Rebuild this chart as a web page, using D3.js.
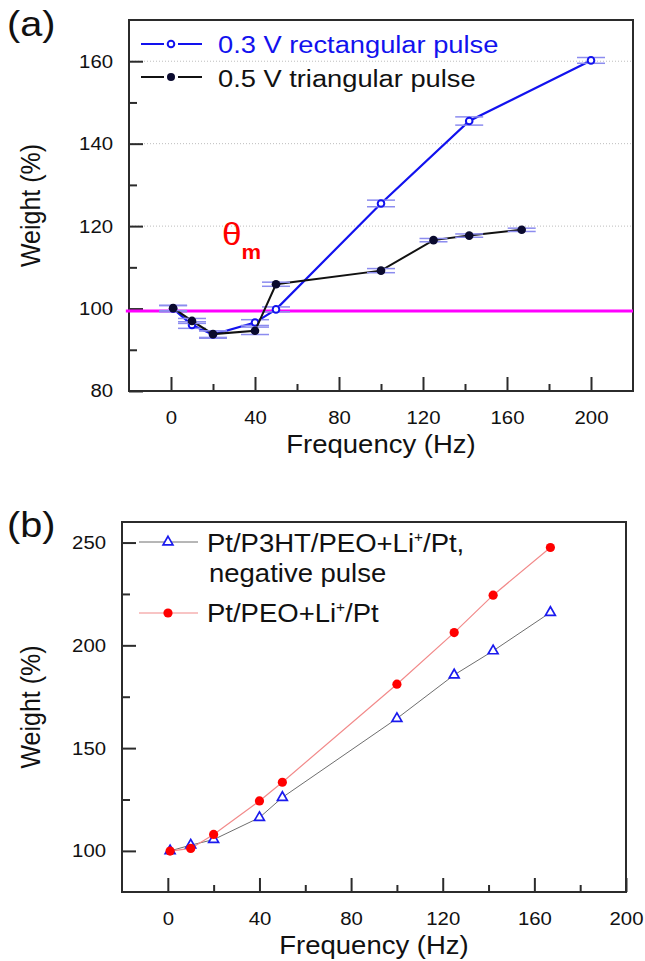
<!DOCTYPE html>
<html>
<head>
<meta charset="utf-8">
<title>Weight vs frequency</title>
<script src="https://cdn.jsdelivr.net/npm/d3@7"></script>
<style>
  body { margin: 0; background: #fff; }
  svg { display: block; font-family: "Liberation Sans", Arial, sans-serif; }
</style>
</head>
<body>
<svg width="645" height="961"></svg>
<script>

// ---- panel (a) data ----
var freqRect   = [1, 10, 20, 40, 50, 100, 142, 200];
var weightRect = [100, 96, 93.7, 96.6, 99.8, 125.5, 145.5, 160.2];
var errRect    = [0.8, 0.8, 0.9, 0.7, 0.6, 0.8, 1.0, 0.7];

var freqTri   = [1, 10, 20, 40, 50, 100, 125, 142, 167];
var weightTri = [100.1, 97, 93.8, 94.6, 105.9, 109.2, 116.6, 117.7, 119.1];
var errTri    = [0.6, 0.6, 0.8, 0.9, 0.5, 0.5, 0.4, 0.4, 0.4];

var thetaLevel = 99.4;          // magenta reference line
var xMajorA = [0, 40, 80, 120, 160, 200], xMinorA = [20, 60, 100, 140, 180];
var yMajorA = [80, 100, 120, 140, 160],   yMinorA = [90, 110, 130, 150];
var gridA = [120, 140, 160];

// ---- panel (b) data ----
var freqB      = [1, 10, 20, 40, 50, 100, 125, 142, 167];
var weightP3HT = [100, 102.8, 105.5, 116.2, 126, 164.4, 185.6, 197.3, 216];
var weightPEO  = [99.9, 101.2, 108, 124.3, 133.4, 181.1, 206.2, 224.4, 247.6];
var xMajorB = [0, 40, 80, 120, 160, 200], xMinorB = [20, 60, 100, 140, 180];
var yMajorB = [100, 150, 200, 250],       yMinorB = [125, 175, 225];

var svg = d3.select("svg");
var SX = 1.1;      // the lettering in the figure is a little wider than Arial
var ink = "#2b2b2b";

function txt(g, x, y, s, size, anchor, color) {
  return g.append("text")
    .attr("transform", "translate(" + x + "," + y + ") scale(" + SX + ",1)")
    .attr("text-anchor", anchor || "start")
    .attr("fill", color || "#111")
    .style("font-size", size + "px")
    .text(s);
}

// box, inward ticks and labels, built on d3 axes
function frame(g, x, y, xMaj, xMin, yMaj, yMin) {
  var bottom = y.range()[0], left = x.range()[0];
  var styleAxis = function(a) {
    a.select(".domain").remove();
    a.selectAll("line").attr("stroke", ink).attr("stroke-width", 2);
    a.attr("font-family", null).attr("font-size", null);
    a.selectAll("text").attr("fill", "#111").style("font-size", "18.5px")
      .attr("transform", "scale(" + SX + ",1)");
  };
  g.append("g").attr("transform", "translate(0," + bottom + ")")
    .call(d3.axisBottom(x).tickValues(xMaj).tickSizeInner(-14).tickSizeOuter(0).tickPadding(20))
    .call(styleAxis);
  g.append("g").attr("transform", "translate(0," + bottom + ")")
    .call(d3.axisBottom(x).tickValues(xMin).tickSizeInner(-7).tickSizeOuter(0).tickFormat(""))
    .call(styleAxis);
  g.append("g").attr("transform", "translate(" + left + ",0)")
    .call(d3.axisLeft(y).tickValues(yMaj).tickSizeInner(-14).tickSizeOuter(0).tickPadding(16 / SX))
    .call(styleAxis);
  g.append("g").attr("transform", "translate(" + left + ",0)")
    .call(d3.axisLeft(y).tickValues(yMin).tickSizeInner(-8).tickSizeOuter(0).tickFormat(""))
    .call(styleAxis);

  g.append("rect")
    .attr("x", x.range()[0]).attr("y", y.range()[1])
    .attr("width", x.range()[1] - x.range()[0])
    .attr("height", y.range()[0] - y.range()[1])
    .attr("fill", "none").attr("stroke", ink).attr("stroke-width", 2);

  var cx = (x.range()[0] + x.range()[1]) / 2, cy = (y.range()[0] + y.range()[1]) / 2;
  txt(g, cx, bottom + 62, "Frequency (Hz)", 25, "middle");
  g.append("text")
    .attr("transform", "translate(40," + cy + ") rotate(-90) scale(1," + SX + ")")
    .attr("text-anchor", "middle").attr("fill", "#111")
    .style("font-size", "25px").text("Weight (%)");
}

// =============== panel (a) ===============
var xA = d3.scaleLinear().domain([-20, 220]).range([129, 633]);
var yA = d3.scaleLinear().domain([80, 170]).range([391, 20]);
var gA = svg.append("g");

gA.selectAll(".grid").data(gridA).join("line")
  .attr("x1", xA(-20)).attr("x2", xA(220))
  .attr("y1", function(d) { return yA(d); }).attr("y2", function(d) { return yA(d); })
  .attr("stroke", "#bdbdbd").attr("stroke-width", 1).attr("stroke-dasharray", "1,2");

frame(gA, xA, yA, xMajorA, xMinorA, yMajorA, yMinorA);
txt(gA, 7, 36, "(a)", 36, "start");

gA.append("line")
  .attr("x1", xA(-21.5)).attr("x2", xA(220))
  .attr("y1", yA(thetaLevel)).attr("y2", yA(thetaLevel))
  .attr("stroke", "#ff00ff").attr("stroke-width", 3);

var rectPts = freqRect.map(function(f, i) { return { f: f, w: weightRect[i], e: errRect[i] }; });
var triPts  = freqTri.map(function(f, i)  { return { f: f, w: weightTri[i],  e: errTri[i] }; });

function errorBars(g, pts) {
  var eb = g.append("g").attr("stroke", "#8c8cef").attr("stroke-width", 1.5);
  pts.forEach(function(p) {
    var px = xA(p.f);
    [p.w - p.e, p.w + p.e].forEach(function(v) {
      eb.append("line").attr("x1", px - 14).attr("x2", px + 14)
        .attr("y1", yA(v)).attr("y2", yA(v));
    });
    eb.append("line").attr("x1", px).attr("x2", px)
      .attr("y1", yA(p.w - p.e)).attr("y2", yA(p.w + p.e));
  });
}

var lineA = d3.line().x(function(d) { return xA(d.f); }).y(function(d) { return yA(d.w); });

gA.append("path").datum(rectPts).attr("d", lineA)
  .attr("fill", "none").attr("stroke", "#1212ee").attr("stroke-width", 2.2);
errorBars(gA, rectPts);
gA.selectAll(".rc").data(rectPts).join("circle")
  .attr("cx", function(d) { return xA(d.f); }).attr("cy", function(d) { return yA(d.w); })
  .attr("r", 3.3).attr("fill", "#fff").attr("stroke", "#1212ee").attr("stroke-width", 2);

gA.append("path").datum(triPts).attr("d", lineA)
  .attr("fill", "none").attr("stroke", "#111").attr("stroke-width", 2);
errorBars(gA, triPts);
gA.selectAll(".tc").data(triPts).join("circle")
  .attr("cx", function(d) { return xA(d.f); }).attr("cy", function(d) { return yA(d.w); })
  .attr("r", 4.3).attr("fill", "#0a0a2e");

// theta_m label
var th = gA.append("text").attr("transform", "translate(222,245) scale(" + SX + ",1)")
  .attr("fill", "#ff0000");
th.append("tspan").style("font-size", "32px").text("θ");
th.append("tspan").attr("dy", 14).style("font-size", "20px").style("font-weight", "bold").text("m");

// legend (a)
var legA = gA.append("g");
[[44, "#1212ee", "0.3 V rectangular pulse", 53], [77, "#111", "0.5 V triangular pulse", 87]].forEach(function(r, i) {
  legA.append("line").attr("x1", 141).attr("x2", 164).attr("y1", r[0]).attr("y2", r[0])
    .attr("stroke", r[1]).attr("stroke-width", 2);
  legA.append("line").attr("x1", 178).attr("x2", 202).attr("y1", r[0]).attr("y2", r[0])
    .attr("stroke", r[1]).attr("stroke-width", 2);
  if (i === 0) {
    legA.append("circle").attr("cx", 171).attr("cy", r[0]).attr("r", 3.3)
      .attr("fill", "#fff").attr("stroke", r[1]).attr("stroke-width", 2);
  } else {
    legA.append("circle").attr("cx", 171).attr("cy", r[0]).attr("r", 4).attr("fill", "#0a0a2e");
  }
  txt(legA, 218, r[3], r[2], 24.8, "start", r[1]);
});

// =============== panel (b) ===============
var xB = d3.scaleLinear().domain([-20, 200]).range([122, 626]);
var yB = d3.scaleLinear().domain([80, 260]).range([892, 522]);
var gB = svg.append("g");

frame(gB, xB, yB, xMajorB, xMinorB, yMajorB, yMinorB);
txt(gB, 7, 537, "(b)", 36, "start");

var lineB = function(vals) {
  return d3.line().x(function(d, i) { return xB(freqB[i]); }).y(function(d) { return yB(d); })(vals);
};
var tri = d3.symbol().type(d3.symbolTriangle).size(42);

gB.append("path").attr("d", lineB(weightP3HT))
  .attr("fill", "none").attr("stroke", "#6e6e6e").attr("stroke-width", 1);
gB.append("path").attr("d", lineB(weightPEO))
  .attr("fill", "none").attr("stroke", "#f28a8a").attr("stroke-width", 1.2);

gB.selectAll(".tb").data(weightP3HT).join("path")
  .attr("d", tri)
  .attr("transform", function(d, i) { return "translate(" + xB(freqB[i]) + "," + yB(d) + ")"; })
  .attr("fill", "#fff").attr("stroke", "#1a1aee").attr("stroke-width", 1.7);
gB.selectAll(".pb").data(weightPEO).join("circle")
  .attr("cx", function(d, i) { return xB(freqB[i]); }).attr("cy", function(d) { return yB(d); })
  .attr("r", 4.6).attr("fill", "#ff0000");

// legend (b)
var legB = gB.append("g");
legB.append("line").attr("x1", 139).attr("x2", 198).attr("y1", 542).attr("y2", 542)
  .attr("stroke", "#6e6e6e").attr("stroke-width", 1);
legB.append("path").attr("d", tri).attr("transform", "translate(168,542)")
  .attr("fill", "#fff").attr("stroke", "#1a1aee").attr("stroke-width", 1.7);
var t1 = txt(legB, 207, 552, "", 25, "start");
t1.append("tspan").text("Pt/P3HT/PEO+Li");
t1.append("tspan").attr("dy", -10).style("font-size", "14px").text("+");
t1.append("tspan").attr("dy", 10).text("/Pt,");
txt(legB, 209, 582, "negative pulse", 25, "start");

legB.append("line").attr("x1", 139).attr("x2", 198).attr("y1", 613).attr("y2", 613)
  .attr("stroke", "#f28a8a").attr("stroke-width", 1.2);
legB.append("circle").attr("cx", 168).attr("cy", 613).attr("r", 4.6).attr("fill", "#ff0000");
var t2 = txt(legB, 207, 622, "", 25, "start");
t2.append("tspan").text("Pt/PEO+Li");
t2.append("tspan").attr("dy", -10).style("font-size", "14px").text("+");
t2.append("tspan").attr("dy", 10).text("/Pt");

</script>
</body>
</html>
